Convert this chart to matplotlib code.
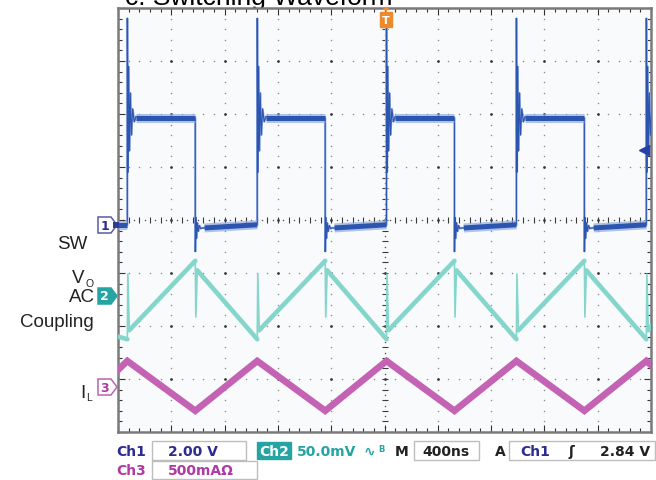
import numpy as np
import matplotlib
matplotlib.use("Agg")
import matplotlib.pyplot as plt
from matplotlib.patches import Rectangle, Polygon

W, H = 656, 481

# time in ns (400 ns/div, trigger at centre), amplitudes in divisions
rise_ns = [-1930, -955, 15, 990, 1965]
fall_ns = [-1420, -445, 525, 1500]

# Ch1 SW
sw_high = 1.92
sw_low_start = -0.15
sw_low_end = -0.09
sw_ring_rise_t = [0, 4, 9, 15, 22, 30, 40, 52, 65]
sw_ring_rise_v = [3.81, 0.9, 2.9, 1.3, 2.4, 1.6, 2.1, 1.85, 1.95]
sw_ring_fall_t = [0, 4, 9, 15, 22, 30, 40, 55]
sw_ring_fall_v = [-0.60, 0.05, -0.35, -0.05, -0.22, -0.10, -0.16, -0.15]

# Ch2 Vo (AC coupling)
vo_left = -2.2
vo_low = -2.25
vo_rise_spike = -1.02
vo_rise_start = -2.08
vo_high = -0.77
vo_fall_spike = -1.83
vo_fall_start = -0.95
vo_right = -2.0

# Ch3 IL
il_left = -2.83
il_peak = -2.66
il_trough = -3.60
il_right = -2.74

ch1_level = -0.09
ch2_level = -1.43
ch3_level = -3.15
trig_level = 1.33

blue = "#2c55b0"
blue_light = "#93abdf"
cyan = "#84d6cc"
magenta = "#c462b4"
ch1_txt = "#2b2b93"
ch2_txt = "#26a4a4"
ch3_txt = "#b03aa0"


def fx(px):
    return px / W


def fy(py):
    return 1 - py / H


fig = plt.figure(figsize=(W / 100, H / 100), dpi=100)
fig.patch.set_facecolor("white")

# title, mostly cut off by the top of the image
fig.text(fx(125), fy(4.5), "c. Switching Waveform", fontsize=19,
         family="Liberation Sans", va="baseline", ha="left", zorder=-1)

ax = fig.add_axes([fx(118), fy(433), (651 - 118) / W, (433 - 9) / H])
ax.set_xlim(-2000, 2000)
ax.set_ylim(-4, 4)
ax.set_facecolor("#f8fafc")
for s in ax.spines.values():
    s.set_color("#7a7a7a")
    s.set_linewidth(1.8)
ax.set_xticks(np.arange(-2000, 2001, 400))
ax.set_xticks(np.arange(-2000, 2001, 80), minor=True)
ax.set_yticks(np.arange(-4, 4.01, 1))
ax.set_yticks(np.arange(-4, 4.01, 0.2), minor=True)
ax.tick_params(which="both", direction="in", color="#333333", width=0.8,
               top=True, right=True, labelbottom=False, labelleft=False)
ax.tick_params(which="major", length=5)
ax.tick_params(which="minor", length=3)

# graticule
gx = np.arange(-1600, 1601, 400)
gy = np.arange(-3, 3.01, 1)
xs_minor = np.arange(-2000, 2001, 80)
ys_minor = np.arange(-4, 4.01, 0.2)
for x in gx:
    if x != 0:
        ax.scatter(np.full(ys_minor.size, x), ys_minor, s=1.2, color="#8c8c8c", lw=0, zorder=1)
for y in gy:
    if y != 0:
        ax.scatter(xs_minor, np.full(xs_minor.size, y), s=1.2, color="#8c8c8c", lw=0, zorder=1)
GX, GY = np.meshgrid(gx, gy)
ax.scatter(GX.ravel(), GY.ravel(), s=4, color="#3a3a3a", lw=0, zorder=1)
# centre cross with ticks
ax.scatter(xs_minor, np.zeros(xs_minor.size), marker="|", s=14, color="#3a3a3a", linewidths=0.8, zorder=1)
ax.scatter(np.zeros(ys_minor.size), ys_minor, marker="_", s=14, color="#3a3a3a", linewidths=0.8, zorder=1)
ax.scatter(np.arange(-1960, 2001, 80), np.zeros(50), s=1.2, color="#555555", lw=0, zorder=1)
ax.scatter(np.zeros(40), np.arange(-3.9, 4, 0.2), s=1.2, color="#555555", lw=0, zorder=1)

# Ch1 SW trace
t = [-2000]
v = [sw_low_end]
hi_segs = []
lo_segs = [((-2000, sw_low_end), (rise_ns[0], sw_low_end))]
for i, r in enumerate(rise_ns):
    t.append(r)
    v.append(sw_low_end)
    t += [r + d for d in sw_ring_rise_t]
    v += sw_ring_rise_v
    if i < len(fall_ns):
        f = fall_ns[i]
        hi_segs.append(((r + sw_ring_rise_t[-1], sw_high), (f, sw_high)))
        t.append(f)
        v.append(sw_high)
        t += [f + d for d in sw_ring_fall_t]
        v += sw_ring_fall_v
        t.append(f + 70)
        v.append(sw_low_start)
        lo_segs.append(((f + 70, sw_low_start), (rise_ns[i + 1], sw_low_end)))
ax.plot(t, v, color=blue_light, lw=1.6, zorder=3, solid_joinstyle="miter")
ax.plot(t, v, color=blue, lw=0.8, zorder=3)
for (a, b) in hi_segs + lo_segs:
    ax.plot([a[0], b[0]], [a[1], b[1]], color=blue_light, lw=6.5, alpha=0.7,
            zorder=3, solid_capstyle="butt")
    ax.plot([a[0], b[0]], [a[1], b[1]], color=blue, lw=3.6, zorder=3,
            solid_capstyle="butt")

# Ch2 Vo trace
t2 = [-2000]
v2 = [vo_left]
ramps = [((-2000, vo_left), (rise_ns[0], vo_low))]
for i, r in enumerate(rise_ns):
    t2 += [r, r + 4, r + 15]
    v2 += [vo_low, vo_rise_spike, vo_rise_start]
    if i < len(fall_ns):
        f = fall_ns[i]
        ramps.append(((r + 15, vo_rise_start), (f, vo_high)))
        t2 += [f, f + 4, f + 15]
        v2 += [vo_high, vo_fall_spike, vo_fall_start]
        ramps.append(((f + 15, vo_fall_start), (rise_ns[i + 1], vo_low)))
t2.append(2000)
v2.append(vo_right)
ramps.append(((rise_ns[-1] + 15, vo_rise_start), (2000, vo_right)))
ax.plot(t2, v2, color=cyan, lw=1.2, zorder=3)
for (a, b) in ramps:
    ax.plot([a[0], b[0]], [a[1], b[1]], color=cyan, lw=3.3, zorder=3,
            solid_capstyle="round")

# Ch3 IL trace
t3 = [-2000] + sorted(rise_ns + fall_ns) + [2000]
v3 = [il_left]
for tt in sorted(rise_ns + fall_ns):
    v3.append(il_peak if tt in rise_ns else il_trough)
v3.append(il_right)
ax.plot(t3, v3, color=magenta, lw=4.8, zorder=3, solid_joinstyle="miter")

# trigger level arrow
ax.plot(1944, trig_level, marker="<", color="#2540a8", ms=6.5, zorder=4, clip_on=False)


def px_poly(pts, **kw):
    p = Polygon([(fx(a), fy(b)) for a, b in pts], closed=True,
                transform=fig.transFigure, **kw)
    fig.patches.append(p)


def px_rect(x0, y0, x1, y1, **kw):
    r = Rectangle((fx(x0), fy(y1)), (x1 - x0) / W, (y1 - y0) / H,
                  transform=fig.transFigure, **kw)
    fig.patches.append(r)


# trigger position marker
px_rect(380, 13, 392, 28, facecolor="#ec8a2e", edgecolor="#ec8a2e", lw=1, zorder=5)
px_poly([(382, 8), (390, 8), (386, 13)], facecolor="#ec8a2e", edgecolor="none", zorder=5)
fig.text(fx(386), fy(21), "T", color="white", fontsize=8, weight="bold",
         ha="center", va="center", zorder=6)

# channel markers
def ch_marker(y, label, face, edge, tc):
    px_poly([(98, y - 8), (111, y - 8), (117, y), (111, y + 8), (98, y + 8)],
            facecolor=face, edgecolor=edge, lw=1.1, zorder=5)
    fig.text(fx(104.5), fy(y), label, color=tc, fontsize=9, weight="bold",
             ha="center", va="center", zorder=6)


ch_marker(226, "1", "white", "#5a5aa8", ch1_txt)
px_rect(113, 223, 119, 229, facecolor="#2b3d9a", edgecolor="none", zorder=6)
ch_marker(297, "2", ch2_txt, ch2_txt, "white")
ch_marker(388, "3", "white", "#b866b0", ch3_txt)

# left labels
lab = dict(family="Liberation Sans", fontsize=13.5, color="#222222", va="baseline")
fig.text(fx(87), fy(249), "SW", ha="right", **lab)
fig.text(fx(84), fy(283), "V", ha="right", **lab)
fig.text(fx(85), fy(287), "O", ha="left", family="Liberation Sans", fontsize=7.5,
         color="#222222", va="baseline")
fig.text(fx(95), fy(302), "AC", ha="right", **lab)
fig.text(fx(94), fy(327), "Coupling", ha="right", **lab)
fig.text(fx(85), fy(398), "I", ha="right", **lab)
fig.text(fx(86), fy(401), "L", ha="left", family="Liberation Sans", fontsize=7.5,
         color="#222222", va="baseline")

# status bar
st = dict(fontsize=10, weight="bold", va="center", ha="left", family="DejaVu Sans")
box = dict(facecolor="none", edgecolor="#bdbdbd", lw=1, zorder=5)
px_rect(152, 442, 246, 461, **box)
px_rect(414, 442, 479, 461, **box)
px_rect(509, 442, 655, 461, **box)
px_rect(152, 462, 257, 480, **box)
px_rect(257, 443, 291, 460, facecolor=ch2_txt, edgecolor=ch2_txt, lw=1, zorder=5)
y1, y2 = 452, 471
fig.text(fx(116), fy(y1), "Ch1", color=ch1_txt, **st)
fig.text(fx(168), fy(y1), "2.00 V", color=ch1_txt, **st)
fig.text(fx(259), fy(y1), "Ch2", color="white", zorder=6, **st)
fig.text(fx(297), fy(y1), "50.0mV", color=ch2_txt, **st)
fig.text(fx(364), fy(y1), "\u223f", color=ch2_txt, **st)
fig.text(fx(378), fy(y1 - 2), "B", color=ch2_txt, fontsize=6, weight="bold",
         va="center", ha="left")
fig.text(fx(395), fy(y1), "M", color="#222222", **st)
fig.text(fx(422), fy(y1), "400ns", color="#222222", **st)
fig.text(fx(495), fy(y1), "A", color="#222222", **st)
fig.text(fx(520), fy(y1), "Ch1", color=ch1_txt, **st)
fig.text(fx(569), fy(y1), "\u0283", color="#222222", **st)
fig.text(fx(600), fy(y1), "2.84 V", color="#222222", **st)
fig.text(fx(116), fy(y2), "Ch3", color=ch3_txt, **st)
fig.text(fx(168), fy(y2), "500mA\u2126", color=ch3_txt, **st)

fig.savefig("out.png", dpi=100)
